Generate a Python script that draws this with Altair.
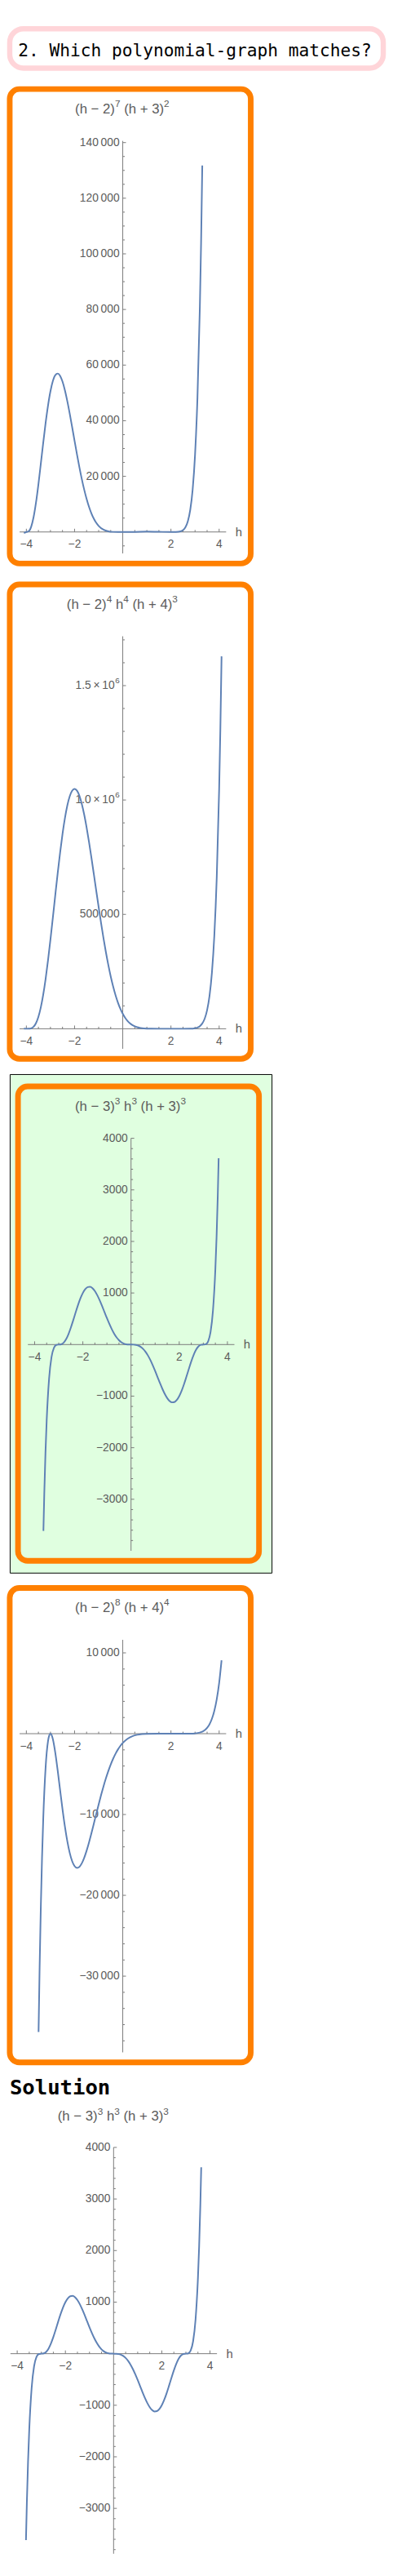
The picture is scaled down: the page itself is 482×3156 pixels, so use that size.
import altair as alt
import pandas as pd

# ---------------- colours / fonts ----------------
BLUE = "#5E81B5"
ORANGE = "#FF8000"
PINK = "#FFD5D9"
GREEN = "#E0FFE0"
AXIS = "#7a7a7a"
LABEL = "#5b5b5b"
SANS = "Liberation Sans, Arial, DejaVu Sans"
MONO = "DejaVu Sans Mono"
TS = "\u2009"  # thin space used in tick labels

# ---------------- texts ----------------
question = "2. Which polynomial-graph matches?"
solution_word = "Solution"
# plot labels as (text, is_superscript) pieces
titles = [
    [("(h − 2)", 0), ("7", 1), (" (h + 3)", 0), ("2", 1)],
    [("(h − 2)", 0), ("4", 1), (" h", 0), ("4", 1), (" (h + 4)", 0), ("3", 1)],
    [("(h − 3)", 0), ("3", 1), (" h", 0), ("3", 1), (" (h + 3)", 0), ("3", 1)],
    [("(h − 2)", 0), ("8", 1), (" (h + 4)", 0), ("4", 1)],
]

# ---------------- shared x axis ----------------
x_range = [-4.28, 4.29]
x_major = [-4, -2, 2, 4]
x_major_labels = ["−4", "−2", "2", "4"]
x_minor = [-3.5, -3, -2.5, -1.5, -1, -0.5, 0.5, 1, 1.5, 2.5, 3, 3.5]

# ---------------- panel A ----------------
a_range = [-7720, 140600]
a_major = [20000, 40000, 60000, 80000, 100000, 120000, 140000]
a_labels = ["20" + TS + "000", "40" + TS + "000", "60" + TS + "000", "80" + TS + "000",
            "100" + TS + "000", "120" + TS + "000", "140" + TS + "000"]
a_sup = ["", "", "", "", "", "", ""]
a_minor = [-5000, 5000, 10000, 15000, 25000, 30000, 35000, 45000, 50000, 55000, 65000,
           70000, 75000, 85000, 90000, 95000, 105000, 110000, 115000, 125000, 130000, 135000]
a_h = [-4.1, -4.0, -3.9, -3.8, -3.7, -3.6, -3.5, -3.4, -3.3, -3.2, -3.1, -3.0, -2.9, -2.8,
       -2.7, -2.6, -2.5, -2.4, -2.3, -2.2, -2.1, -2.0, -1.9, -1.8, -1.7, -1.6, -1.5, -1.4,
       -1.3, -1.2, -1.1, -1.0, -0.8, -0.6, -0.4, -0.2, 0.0, 0.5, 1.0, 1.5, 2.0, 2.2, 2.4,
       2.5, 2.6, 2.7, 2.8, 2.9, 3.0, 3.1, 3.2, 3.25, 3.3]
a_v = [-391, 0, 280, 1887, 5341, 10573, 17164, 24543, 32096, 39254, 45546, 50625, 54270,
       56386, 56970, 56148, 54060, 50939, 46998, 42519, 37698, 32768, 27911, 23307, 19043,
       15218, 11870, 9023, 6667, 4773, 3298, 2187, 825, 233, 40, 2, 0, 29, 125, 53, 0, 9,
       223, 670, 1703, 3838, 7917, 15245, 27783, 48393, 81150, 103790, 131760]

# ---------------- panel B ----------------
b_range = [-87600, 1715700]
b_major = [500000, 1000000, 1500000]
b_labels = ["500" + TS + "000", "1.0" + TS + "×" + TS + "10", "1.5" + TS + "×" + TS + "10"]
b_sup = ["", "6", "6"]
b_minor = [100000, 200000, 300000, 400000, 600000, 700000, 800000, 900000, 1100000,
           1200000, 1300000, 1400000, 1600000, 1700000]
b_h = [-4.1, -4.0, -3.9, -3.8, -3.7, -3.6, -3.5, -3.4, -3.3, -3.2, -3.1, -3.0, -2.9, -2.8,
       -2.7, -2.6, -2.5, -2.4, -2.3, -2.2, -2.1, -2.0, -1.9, -1.8, -1.7, -1.6, -1.5, -1.4,
       -1.3, -1.2, -1.1, -1.0, -0.9, -0.8, -0.7, -0.6, -0.5, -0.4, -0.3, -0.2, -0.1, 0.0,
       0.1, 0.2, 0.3, 0.4, 0.5, 0.6, 0.7, 0.8, 1.0, 1.2, 1.5, 2.0, 2.5, 2.8, 3.0, 3.1, 3.2,
       3.3, 3.4, 3.5, 3.6, 3.7, 3.8, 3.9, 4.0, 4.05, 4.1]
b_v = [192, 0, 147, 2049, 9026, 24758, 52334, 93705, 149490, 218970, 300280, 390625,
       486560, 584320, 680080, 770170, 851260, 920660, 976200, 1016400, 1040640, 1048576,
       1040800, 1018500, 982600, 936040, 879600, 816060, 747360, 675860, 603190, 531441,
       462030, 396220, 334900, 279060, 228980, 184890, 146720, 114450, 87480, 65536, 47990,
       34290, 23850, 16098, 10510, 6608, 3980, 2282, 625, 123, 4, 0, 7, 359, 2401, 5447,
       11555, 23165, 44255, 81092, 143290, 245230, 407910, 661370, 1048576, 1309800, 1628000]

# ---------------- panel C (also the solution) ----------------
c_range = [-4000, 4000]
c_major = [-3000, -2000, -1000, 1000, 2000, 3000, 4000]
c_labels = ["−3000", "−2000", "−1000", "1000", "2000", "3000", "4000"]
c_sup = ["", "", "", "", "", "", ""]
c_minor = [-3800, -3600, -3400, -3200, -2800, -2600, -2400, -2200, -1800, -1600, -1400,
           -1200, -800, -600, -400, -200, 200, 400, 600, 800, 1200, 1400, 1600, 1800, 2200,
           2400, 2600, 2800, 3200, 3400, 3600, 3800]
c_h = [-3.636, -3.6, -3.55, -3.5, -3.4, -3.3, -3.2, -3.1, -3.0, -2.9, -2.8, -2.7, -2.6,
       -2.5, -2.4, -2.3, -2.2, -2.1, -2.0, -1.9, -1.8, -1.7, -1.6, -1.5, -1.4, -1.3, -1.2,
       -1.1, -1.0, -0.9, -0.8, -0.7, -0.6, -0.5, -0.4, -0.3, -0.2, -0.1, 0.0, 0.1, 0.2,
       0.3, 0.4, 0.5, 0.6, 0.7, 0.8, 0.9, 1.0, 1.1, 1.2, 1.3, 1.4, 1.5, 1.6, 1.7, 1.8, 1.9,
       2.0, 2.1, 2.2, 2.3, 2.4, 2.5, 2.6, 2.7, 2.8, 2.9, 3.0, 3.1, 3.2, 3.3, 3.4, 3.5, 3.55,
       3.6, 3.636]
c_v = [-3614, -2897, -2092, -1472, -659, -243, -63, -7, 0, 5, 34, 98, 198, 325, 470, 621,
       767, 896, 1000, 1074, 1115, 1121, 1094, 1038, 957, 858, 747, 629, 512, 401, 299, 211,
       139, 84, 44, 19, 6, 1, 0, -1, -6, -19, -44, -84, -139, -211, -299, -401, -512, -629,
       -747, -858, -957, -1038, -1094, -1121, -1115, -1074, -1000, -896, -767, -621, -470,
       -325, -198, -98, -34, -5, 0, 7, 63, 243, 659, 1472, 2092, 2897, 3614]

# ---------------- panel D ----------------
d_range = [-39430, 11610]
d_major = [-30000, -20000, -10000, 10000]
d_labels = ["−30" + TS + "000", "−20" + TS + "000", "−10" + TS + "000", "10" + TS + "000"]
d_sup = ["", "", "", ""]
d_minor = [-38000, -36000, -34000, -32000, -28000, -26000, -24000, -22000, -18000, -16000,
           -14000, -12000, -8000, -6000, -4000, -2000, 2000, 4000, 6000, 8000]
d_h = [-3.494, -3.45, -3.4, -3.35, -3.3, -3.2, -3.1, -3.05, -3.0, -2.95, -2.9, -2.8, -2.7,
       -2.6, -2.5, -2.4, -2.3, -2.2, -2.1, -2.0, -1.9, -1.8, -1.7, -1.6, -1.5, -1.4, -1.3,
       -1.2, -1.1, -1.0, -0.9, -0.8, -0.7, -0.6, -0.5, -0.4, -0.3, -0.2, -0.1, 0.0, 0.2,
       0.4, 0.6, 0.8, 1.0, 1.5, 2.0, 2.5, 2.8, 3.0, 3.2, 3.4, 3.5, 3.6, 3.7, 3.8, 3.9, 4.0,
       4.1]
d_v = [-36900, -28920, -21422, -15368, -10572, -4112, -897, -209, 0, -182, -678, -2348,
       -4560, -6973, -9342, -11494, -13319, -14755, -15775, -16384, -16602, -16475, -16042,
       -15359, -14476, -13446, -12317, -11133, -9932, -8748, -7607, -6531, -5533, -4626,
       -3815, -3101, -2482, -1955, -1515, -1152, -627, -310, -137, -52, -16, 0, 0, 0, 7, 36,
       138, 432, 722, 1169, 1842, 2831, 4256, 6272, 9079]

PPU = 30.0  # pixels per unit of h

# advance widths (em) of the sans font, used to lay out superscripts next to base text
ADV = {"(": 0.333, ")": 0.333, "h": 0.556, " ": 0.278, "−": 0.584, "+": 0.584}
TITLE_FS, SUP_FS, SUP_RISE = 17, 12, 7


def text_width(s, fs):
    return sum(ADV.get(ch, 0.556) for ch in s) * fs


def title_layers(pieces, cx, cy):
    widths = [text_width(t, SUP_FS if sup else TITLE_FS) for t, sup in pieces]
    x = cx - sum(widths) / 2
    out = []
    for (t, sup), w in zip(pieces, widths):
        fs = SUP_FS if sup else TITLE_FS
        body = t.lstrip(" ")
        lead = text_width(t[: len(t) - len(body)], fs)
        out.append(
            alt.Chart(pd.DataFrame({"z": [0]})).mark_text(
                font=SANS, fontSize=fs, color=LABEL,
                baseline="middle", align="left", text=body
            ).encode(x=alt.value(x + lead), y=alt.value(cy - SUP_RISE if sup else cy)))
        x += w
    return out


def plot_layers(title, yr, ymaj, ylab, ysup, ymin_t, hs, vs, W, H, ax_x, top_px, bot_px, tx, ty):
    xs = alt.Scale(domain=[-ax_x / PPU, (W - ax_x) / PPU], nice=False, zero=False)
    lo, hi = yr
    k = (hi - lo) / (bot_px - top_px)
    dlo = hi - (H - top_px) * k
    dhi = hi + top_px * k
    ys = alt.Scale(domain=[dlo, dhi], nice=False, zero=False)

    axes = pd.DataFrame({"x1": [x_range[0]], "x2": [x_range[1]],
                         "y1": [max(lo, dlo)], "y2": [hi], "z": [0]})
    xmaj = pd.DataFrame({"t": x_major, "lab": x_major_labels, "z": 0})
    xmin = pd.DataFrame({"t": x_minor, "z": 0})
    ymj = pd.DataFrame({"t": ymaj, "lab": ylab, "sup": ysup, "z": 0})
    ymj_plain = ymj[ymj["sup"] == ""]
    ymj_exp = ymj[ymj["sup"] != ""]
    ymn = pd.DataFrame({"t": ymin_t, "z": 0})
    curve = pd.DataFrame({"h": hs, "v": vs})

    X = lambda f: alt.X(f, type="quantitative", scale=xs, axis=None)
    Y = lambda f: alt.Y(f, type="quantitative", scale=ys, axis=None)

    layers = [
        alt.Chart(axes).mark_rule(color=AXIS, strokeWidth=1).encode(
            x=X("x1"), x2=alt.X2("x2"), y=Y("z")),
        alt.Chart(axes).mark_rule(color=AXIS, strokeWidth=1).encode(
            x=X("z"), y=Y("y1"), y2=alt.Y2("y2")),
        alt.Chart(xmaj).mark_rule(color=AXIS, strokeWidth=1, y2Offset=-4).encode(
            x=X("t"), y=Y("z"), y2=alt.Y2("z")),
        alt.Chart(xmin).mark_rule(color=AXIS, strokeWidth=1, y2Offset=-2.5).encode(
            x=X("t"), y=Y("z"), y2=alt.Y2("z")),
        alt.Chart(ymj).mark_rule(color=AXIS, strokeWidth=1, x2Offset=4).encode(
            y=Y("t"), x=X("z"), x2=alt.X2("z")),
        alt.Chart(ymn).mark_rule(color=AXIS, strokeWidth=1, x2Offset=2.5).encode(
            y=Y("t"), x=X("z"), x2=alt.X2("z")),
        alt.Chart(xmaj).mark_text(font=SANS, fontSize=14, color=LABEL, baseline="middle",
                                  dy=16).encode(x=X("t"), y=Y("z"), text="lab:N"),
        alt.Chart(axes).mark_text(font=SANS, fontSize=15, color=LABEL, baseline="middle",
                                  align="left", dx=11.5, text="h").encode(x=X("x2"), y=Y("z")),
    ]
    if len(ymj_plain):
        layers.append(
            alt.Chart(ymj_plain).mark_text(font=SANS, fontSize=14, color=LABEL, baseline="middle",
                                           align="right", dx=-4).encode(
                y=Y("t"), x=X("z"), text="lab:N"))
    if len(ymj_exp):
        sw = 0.556 * 10
        layers.append(
            alt.Chart(ymj_exp).mark_text(font=SANS, fontSize=14, color=LABEL, baseline="middle",
                                         align="right", dx=-4 - sw - 0.5).encode(
                y=Y("t"), x=X("z"), text="lab:N"))
        layers.append(
            alt.Chart(ymj_exp).mark_text(font=SANS, fontSize=10, color=LABEL, baseline="middle",
                                         align="left", dx=-4 - sw, dy=-6).encode(
                y=Y("t"), x=X("z"), text="sup:N"))
    layers += title_layers(title, tx, ty)
    layers.append(
        alt.Chart(curve).mark_line(color=BLUE, strokeWidth=2, interpolate="monotone").encode(
            x=X("h"), y=Y("v")))
    return layers


BW, BH = 300, 590  # orange box (stroke centre) size


def orange_panel(title, yr, ymaj, ylab, ysup, ymin_t, hs, vs):
    layers = plot_layers(title, yr, ymaj, ylab, ysup, ymin_t, hs, vs, BW, BH,
                         ax_x=140.7, top_px=64.5, bot_px=577.5, tx=140, ty=25)
    return alt.layer(*layers).properties(
        width=BW, height=BH,
        view=alt.ViewBackground(stroke=ORANGE, strokeWidth=7, cornerRadius=12, fill="white"))


one = pd.DataFrame({"z": [0]})

# question banner
title_panel = alt.Chart(one).mark_text(
    text=question, font=MONO, fontSize=21.5, align="left", baseline="alphabetic", color="black"
).encode(x=alt.value(10.5), y=alt.value(34)).properties(
    width=465, height=49,
    view=alt.ViewBackground(stroke=PINK, strokeWidth=6.5, cornerRadius=17, fill="white"))

box1 = orange_panel(titles[0], a_range, a_major, a_labels, a_sup, a_minor, a_h, a_v)
box2 = orange_panel(titles[1], b_range, b_major, b_labels, b_sup, b_minor, b_h, b_v)
box4 = orange_panel(titles[3], d_range, d_major, d_labels, d_sup, d_minor, d_h, d_v)

# green (highlighted) panel
GW, GH = 326, 620
g_layers = plot_layers(titles[2], c_range, c_major, c_labels, c_sup, c_minor, c_h, c_v, GW, GH,
                       ax_x=151, top_px=79.8, bot_px=592.8, tx=150.3, ty=40.3)
frame = alt.Chart(one).mark_rect(fillOpacity=0, stroke=ORANGE, strokeWidth=7, cornerRadius=12).encode(
    x=alt.value(10.3), x2=alt.value(310.3), y=alt.value(15.3), y2=alt.value(605.3))
green_panel = alt.layer(frame, *g_layers).properties(
    width=GW, height=GH,
    view=alt.ViewBackground(stroke="black", strokeWidth=1, fill=GREEN))

# solution panel
SW, SH = 300, 595
s_layers = plot_layers(titles[2], c_range, c_major, c_labels, c_sup, c_minor, c_h, c_v, SW, SH,
                       ax_x=129.3, top_px=89.7, bot_px=602.7, tx=128.8, ty=51.7)
sol_text = alt.Chart(one).mark_text(
    text=solution_word, font=MONO, fontWeight="bold", fontSize=26, align="left",
    baseline="alphabetic", color="black").encode(x=alt.value(0), y=alt.value(24))
solution_panel = alt.layer(sol_text, *s_layers).properties(
    width=SW, height=SH, view=alt.ViewBackground(strokeWidth=0, fill="white"))

top = alt.vconcat(title_panel, box1, box2, spacing=18)
mid = alt.vconcat(green_panel, box4, spacing=14)
upper = alt.vconcat(top, mid, spacing=14)
chart = alt.vconcat(upper, solution_panel, spacing=12).properties(padding=0)

chart.save("out.html", embed_options={"renderer": "svg", "actions": False})
